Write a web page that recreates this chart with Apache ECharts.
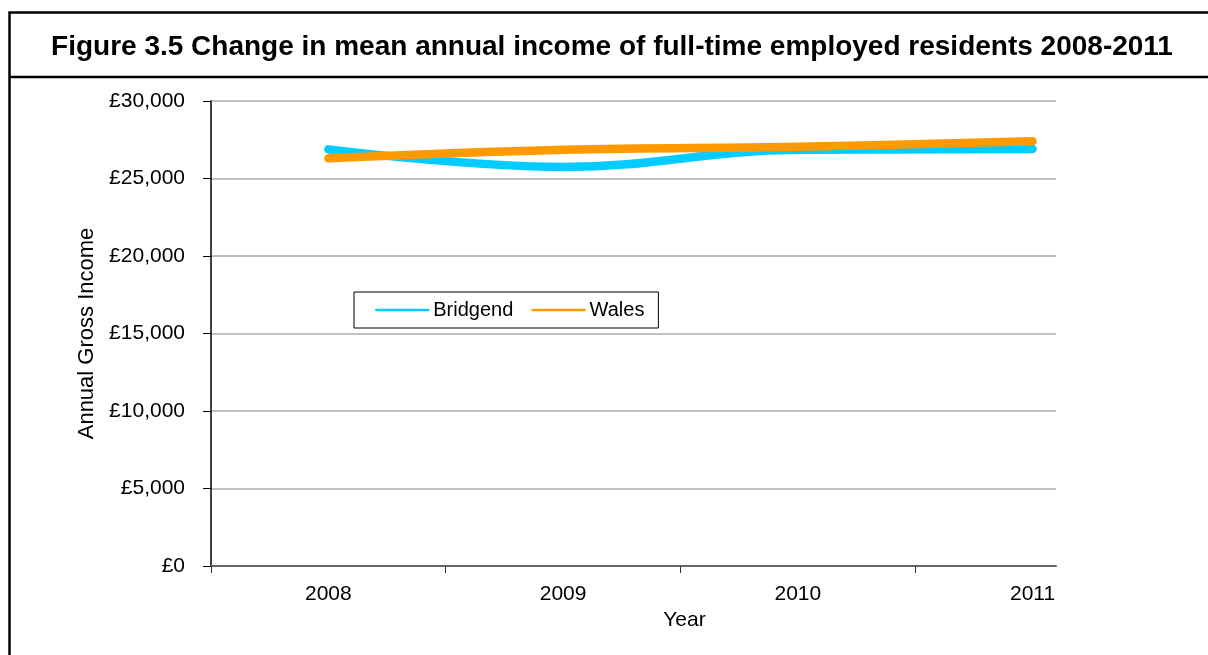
<!DOCTYPE html>
<html>
<head>
<meta charset="utf-8">
<title>Figure 3.5 Change in mean annual income</title>
<script src="https://cdn.jsdelivr.net/npm/echarts@6/dist/echarts.min.js"></script>
<style>
  html, body { margin: 0; padding: 0; background: #fff; }
  #chart { width: 1208px; height: 655px; }
</style>
</head>
<body>
<div id="chart"></div>
<script>
// Mean annual gross income of full-time employed residents
const years = [2008, 2009, 2010, 2011];
const bridgend = [26880, 25750, 26850, 26900];
const wales = [26300, 26850, 27050, 27400];
const seriesNames = ['Bridgend', 'Wales'];
const yTicks = [0, 5000, 10000, 15000, 20000, 25000, 30000];
// category boundaries sit half-way between years
const yearBoundaries = [2007.5, 2008.5, 2009.5, 2010.5];

const FONT = '"Liberation Sans", Arial, sans-serif';
const chart = echarts.init(document.getElementById('chart'), null, { renderer: 'canvas' });

const pairs = (vals) => years.map((y, i) => [y, vals[i]]);

chart.setOption({
  animation: false,
  backgroundColor: '#ffffff',
  title: {
    text: 'Figure 3.5 Change in mean annual income of full-time employed residents 2008-2011',
    left: 607,
    top: 28,
    textAlign: 'center',
    textStyle: { fontFamily: FONT, fontWeight: 'bold', fontSize: 28, color: '#000' }
  },
  graphic: [
    {
      type: 'rect', silent: true, z: 100,
      shape: { x: 9.5, y: 12.5, width: 1400, height: 900 },
      style: { fill: 'none', stroke: '#000', lineWidth: 2.5 }
    },
    {
      type: 'line', silent: true, z: 100,
      shape: { x1: 9, y1: 77, x2: 1400, y2: 77 },
      style: { stroke: '#000', lineWidth: 2.5 }
    }
  ],
  legend: {
    data: seriesNames,
    left: 354,
    top: 292,
    orient: 'horizontal',
    padding: [8, 14, 8, 21],
    itemGap: 18,
    itemWidth: 52,
    itemHeight: 14,
    borderColor: '#000',
    borderWidth: 1,
    itemStyle: { opacity: 0 },
    lineStyle: { width: 2.5, opacity: 1 },
    textStyle: { fontFamily: FONT, fontSize: 20, color: '#000' }
  },
  grid: { left: 211, top: 101, right: 152, bottom: 89, containLabel: false },
  xAxis: {
    type: 'value',
    min: 2007.5,
    max: 2011.1,
    name: 'Year',
    nameLocation: 'middle',
    nameGap: 44,
    nameTextStyle: { fontFamily: FONT, fontSize: 21, color: '#000', padding: [0, 0, 0, 102] },
    axisLine: { show: true, onZero: false, lineStyle: { color: '#666', width: 2 } },
    axisTick: { show: true, length: 7, customValues: yearBoundaries, lineStyle: { color: '#333', width: 1 } },
    axisLabel: {
      customValues: years,
      margin: 18,
      fontFamily: FONT, fontSize: 21, color: '#000',
      formatter: (v) => String(v)
    },
    splitLine: { show: false }
  },
  yAxis: {
    type: 'value',
    min: yTicks[0],
    max: yTicks[yTicks.length - 1],
    interval: 5000,
    name: 'Annual Gross Income',
    nameLocation: 'middle',
    nameGap: 112,
    nameTextStyle: { fontFamily: FONT, fontSize: 22, color: '#000' },
    axisLine: { show: true, lineStyle: { color: '#000', width: 1.5 } },
    axisTick: { show: true, length: 8, lineStyle: { color: '#000', width: 1 } },
    axisLabel: {
      margin: 26,
      fontFamily: FONT, fontSize: 21, color: '#000',
      formatter: (v) => '£' + v.toLocaleString('en-GB')
    },
    splitLine: { show: true, lineStyle: { color: '#c0c0c0', width: 2 } }
  },
  series: [
    {
      name: seriesNames[0],
      type: 'line',
      data: pairs(bridgend),
      smooth: 0.4,
      showSymbol: false,
      symbol: 'none',
      color: '#00ccff',
      lineStyle: { color: '#00ccff', width: 8.5, cap: 'round', join: 'round' },
      z: 2
    },
    {
      name: seriesNames[1],
      type: 'line',
      data: pairs(wales),
      smooth: 0.4,
      showSymbol: false,
      symbol: 'none',
      color: '#ff9900',
      lineStyle: { color: '#ff9900', width: 8.5, cap: 'round', join: 'round' },
      z: 3
    }
  ]
});
</script>
</body>
</html>
